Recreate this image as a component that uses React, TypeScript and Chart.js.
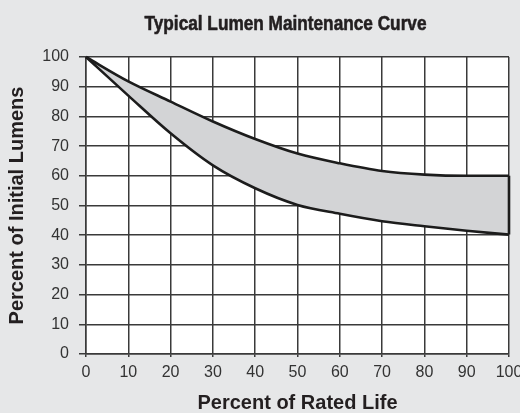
import React, { useEffect, useRef } from "react";
import { Chart, registerables } from "chart.js";

Chart.register(...registerables);

const lifePct = [0, 10, 20, 30, 40, 50, 60, 70, 80, 90, 100];
const upperLumens = [100, 91.8, 85, 78.3, 72.4, 67.5, 64.2, 61.6, 60.4, 60, 60];
const lowerLumens = [100, 87, 74.3, 63.5, 55.8, 50.2, 47.2, 44.7, 43, 41.5, 40.2];
const yTicks = [0, 10, 20, 30, 40, 50, 60, 70, 80, 90, 100];

const titleText = "Typical Lumen Maintenance Curve";
const xTitle = "Percent of Rated Life";
const yTitle = "Percent of Initial Lumens";

const bgPlugin = {
  id: "bgPlugin",
  beforeDraw(chart: any) {
    const { ctx, chartArea, width, height } = chart;
    ctx.save();
    ctx.fillStyle = "#e6e7e8";
    ctx.fillRect(0, 0, width, height);
    ctx.fillStyle = "#ffffff";
    ctx.fillRect(chartArea.left, chartArea.top, chartArea.right - chartArea.left, chartArea.bottom - chartArea.top);
    ctx.restore();
  },
};

// Condensed bold title (no condensed font installed, so squeeze horizontally)
const condensedTitlePlugin = {
  id: "condensedTitle",
  afterDraw(chart: any) {
    const { ctx } = chart;
    ctx.save();
    ctx.font = "bold 21px 'Liberation Sans', Arial, sans-serif";
    ctx.fillStyle = "#231f20";
    ctx.strokeStyle = "#231f20";
    ctx.lineWidth = 0.6;
    ctx.lineJoin = "round";
    ctx.textAlign = "center";
    ctx.textBaseline = "alphabetic";
    const sx = 0.82;
    ctx.translate(285.5, 30);
    ctx.scale(sx, 1);
    ctx.fillText(titleText, 0, 0);
    ctx.strokeText(titleText, 0, 0);
    ctx.restore();
  },
};

export default function App() {
  const ref = useRef<HTMLCanvasElement | null>(null);

  useEffect(() => {
    if (!ref.current) return;
    const last = lifePct.length - 1;
    const lineStyle = {
      borderColor: "#1c1c1c",
      borderWidth: 2.6,
      pointRadius: 0,
      clip: false as any,
    };
    const chart = new Chart(ref.current, {
      type: "line",
      data: {
        datasets: [
          {
            ...lineStyle,
            data: lifePct.map((x, i) => ({ x, y: upperLumens[i] })),
            backgroundColor: "#d3d4d6",
            fill: "+1",
            cubicInterpolationMode: "monotone",
          },
          {
            ...lineStyle,
            data: lifePct.map((x, i) => ({ x, y: lowerLumens[i] })),
            fill: false,
            cubicInterpolationMode: "monotone",
          },
          {
            ...lineStyle,
            data: [
              { x: lifePct[last], y: upperLumens[last] },
              { x: lifePct[last], y: lowerLumens[last] },
            ],
            fill: false,
          },
        ],
      },
      options: {
        animation: false,
        responsive: false,
        maintainAspectRatio: false,
        layout: { padding: { left: 0, right: 0, top: 57, bottom: 0 } },
        plugins: {
          legend: { display: false },
          tooltip: { enabled: false },
          title: { display: false },
          filler: { drawTime: "beforeDatasetsDraw" },
        } as any,
        scales: {
          x: {
            type: "linear",
            min: 0,
            max: 100,
            afterFit(scale: any) {
              scale.height = 59;
              scale.paddingRight = 11;
            },
            ticks: {
              stepSize: 10,
              color: "#333333",
              padding: 6,
              maxRotation: 0,
              font: { family: "'Liberation Sans', Arial, sans-serif", size: 16 },
            },
            grid: { color: "#3a3a3a", lineWidth: 1.5, tickLength: 3 },
            border: { color: "#3a3a3a", width: 1.5 },
            title: {
              display: true,
              text: xTitle,
              color: "#231f20",
              font: { family: "'Liberation Sans', Arial, sans-serif", size: 20, weight: "bold", lineHeight: 1 },
              padding: { top: 0, bottom: 0 },
            },
          },
          y: {
            type: "linear",
            min: 0,
            max: 100,
            afterFit(scale: any) {
              scale.width = 86;
            },
            afterBuildTicks(scale: any) {
              scale.ticks = yTicks.map((v) => ({ value: v }));
            },
            ticks: {
              color: "#333333",
              padding: 10,
              font: { family: "'Liberation Sans', Arial, sans-serif", size: 16 },
            },
            grid: { color: "#3a3a3a", lineWidth: 1.5, tickLength: 7 },
            border: { color: "#3a3a3a", width: 1.5 },
            title: {
              display: true,
              text: yTitle,
              color: "#231f20",
              font: { family: "'Liberation Sans', Arial, sans-serif", size: 20, weight: "bold", lineHeight: 1 },
              padding: { top: 7, bottom: 0 },
            },
          },
        },
      },
      plugins: [bgPlugin, condensedTitlePlugin],
    });
    return () => chart.destroy();
  }, []);

  return (
    <div style={{ position: "fixed", left: 0, top: 0, width: 520, height: 413 }}>
      <canvas ref={ref} width={520} height={413} style={{ display: "block" }} />
    </div>
  );
}
